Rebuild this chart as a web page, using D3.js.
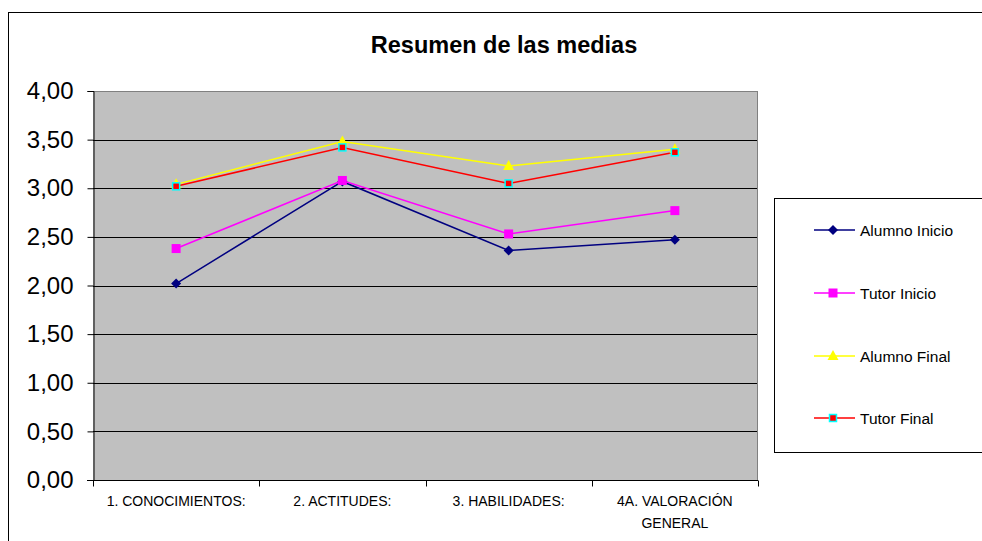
<!DOCTYPE html>
<html>
<head>
<meta charset="utf-8">
<script src="https://cdn.jsdelivr.net/npm/d3@7"></script>
<style>
  body { margin: 0; background: #fff; }
  text { font-family: "Liberation Sans", Arial, sans-serif; }
</style>
</head>
<body>
<div id="chart"></div>
<script>
var categories = ["1. CONOCIMIENTOS:", "2. ACTITUDES:", "3. HABILIDADES:", "4A. VALORACIÓN GENERAL"];
var seriesNames = ["Alumno Inicio", "Tutor Inicio", "Alumno Final", "Tutor Final"];
var alumnoInicio = [2.02, 3.07, 2.36, 2.47];
var tutorInicio = [2.38, 3.08, 2.53, 2.77];
var alumnoFinal = [3.04, 3.48, 3.23, 3.40];
var tutorFinal = [3.02, 3.42, 3.05, 3.37];
var yTicks = [0, 0.5, 1, 1.5, 2, 2.5, 3, 3.5, 4];

var svgWidth = 982;
var svgHeight = 541;
var margin = { top: 91, right: 224, bottom: 61, left: 93 };
var width = svgWidth - margin.left - margin.right;
var height = svgHeight - margin.top - margin.bottom;

var svg = d3.select("#chart").append("svg")
  .attr("width", svgWidth)
  .attr("height", svgHeight);

// outer chart frame
svg.append("rect")
  .attr("x", 8.5).attr("y", 12.5)
  .attr("width", 990).attr("height", 560)
  .attr("fill", "#fff").attr("stroke", "#000");

svg.append("text")
  .attr("x", 504).attr("y", 53)
  .attr("text-anchor", "middle")
  .attr("font-size", 23.5).attr("font-weight", "bold")
  .text("Resumen de las medias");

var chartGroup = svg.append("g")
  .attr("transform", `translate(${margin.left}, ${margin.top})`);

var x = d3.scaleBand().domain(categories).range([0, width]);
var y = d3.scaleLinear().domain([0, 4]).range([height, 0]);
var fmt = d => d.toFixed(2).replace(".", ",");

chartGroup.append("rect")
  .attr("width", width).attr("height", height)
  .attr("fill", "#c0c0c0");

// gridlines
chartGroup.selectAll(".grid")
  .data(yTicks.slice(1, -1))
  .enter().append("line")
  .attr("x1", 0).attr("x2", width)
  .attr("y1", d => Math.round(y(d)) + 0.5).attr("y2", d => Math.round(y(d)) + 0.5)
  .attr("stroke", "#000");

chartGroup.append("line")
  .attr("x1", 0).attr("x2", width).attr("y1", 0.5).attr("y2", 0.5)
  .attr("stroke", "#808080");
chartGroup.append("line")
  .attr("x1", width - 0.5).attr("x2", width - 0.5).attr("y1", 0).attr("y2", height)
  .attr("stroke", "#808080");

// y axis
var leftAxis = d3.axisLeft(y).tickValues(yTicks).tickFormat(fmt).tickSize(6).tickPadding(14);
var yAxisG = chartGroup.append("g").attr("transform", "translate(0.5,0)").call(leftAxis);
yAxisG.selectAll("text").attr("font-size", 24).attr("fill", "#000");
yAxisG.selectAll("line").attr("stroke", "#000");
yAxisG.select(".domain").attr("stroke", "#000");

// x axis
var xTickPos = categories.map((c, i) => x(c)).concat([width]);
var xAxisG = chartGroup.append("g").attr("transform", `translate(0, ${height + 0.5})`);
xAxisG.append("line").attr("x1", -6).attr("x2", width).attr("stroke", "#000");
xAxisG.selectAll(".xt").data(xTickPos).enter().append("line")
  .attr("x1", d => Math.round(d) + 0.5).attr("x2", d => Math.round(d) + 0.5)
  .attr("y1", 0).attr("y2", 6).attr("stroke", "#000");
xAxisG.selectAll(".xl").data(categories).enter().append("text")
  .attr("x", d => x(d) + x.bandwidth() / 2)
  .attr("y", 25)
  .attr("text-anchor", "middle")
  .attr("font-size", 14)
  .each(function(d) {
    var t = d3.select(this);
    if (d === "4A. VALORACIÓN GENERAL") {
      t.append("tspan").attr("x", x(d) + x.bandwidth() / 2).text("4A. VALORACIÓN");
      t.append("tspan").attr("x", x(d) + x.bandwidth() / 2).attr("dy", 22).text("GENERAL");
    } else {
      t.text(d);
    }
  });

var series = [
  { name: seriesNames[0], values: alumnoInicio, color: "#000080", marker: "diamond" },
  { name: seriesNames[1], values: tutorInicio, color: "#ff00ff", marker: "square" },
  { name: seriesNames[2], values: alumnoFinal, color: "#ffff00", marker: "triangle" },
  { name: seriesNames[3], values: tutorFinal, color: "#ff0000", marker: "tsquare" }
];

var cx = i => x(categories[i]) + x.bandwidth() / 2;
var line = d3.line().x((d, i) => cx(i)).y(d => y(d));

function drawMarker(g, s, px, py) {
  if (s.marker === "diamond") {
    g.append("path").attr("d", `M${px},${py - 5}L${px + 5},${py}L${px},${py + 5}L${px - 5},${py}Z`)
      .attr("fill", s.color);
  } else if (s.marker === "square") {
    g.append("rect").attr("x", px - 4.5).attr("y", py - 4.5).attr("width", 9).attr("height", 9)
      .attr("fill", s.color);
  } else if (s.marker === "triangle") {
    g.append("path").attr("d", `M${px},${py - 6}L${px + 5.5},${py + 4}L${px - 5.5},${py + 4}Z`)
      .attr("fill", s.color);
  } else {
    g.append("rect").attr("x", px - 3.5).attr("y", py - 3.5).attr("width", 7).attr("height", 7)
      .attr("fill", s.color).attr("stroke", "#00ffff").attr("stroke-width", 1.5);
  }
}

series.forEach(s => {
  chartGroup.append("path")
    .datum(s.values)
    .attr("d", line)
    .attr("fill", "none")
    .attr("stroke", s.color)
    .attr("stroke-width", 1.5);
});
series.forEach(s => {
  s.values.forEach((v, i) => drawMarker(chartGroup, s, cx(i), y(v)));
});

// legend
var legend = svg.append("g");
legend.append("rect")
  .attr("x", 774.5).attr("y", 198.5)
  .attr("width", 220).attr("height", 254)
  .attr("fill", "#fff").attr("stroke", "#000");

var legendY = [230, 293, 356, 418];
series.forEach((s, i) => {
  var ly = legendY[i];
  legend.append("line").attr("x1", 814).attr("x2", 855).attr("y1", ly).attr("y2", ly)
    .attr("stroke", s.color).attr("stroke-width", 1.5);
  drawMarker(legend, s, 833, ly);
  legend.append("text").attr("x", 860).attr("y", ly + 5.5)
    .attr("font-size", 15.5).text(s.name);
});
</script>
</body>
</html>
